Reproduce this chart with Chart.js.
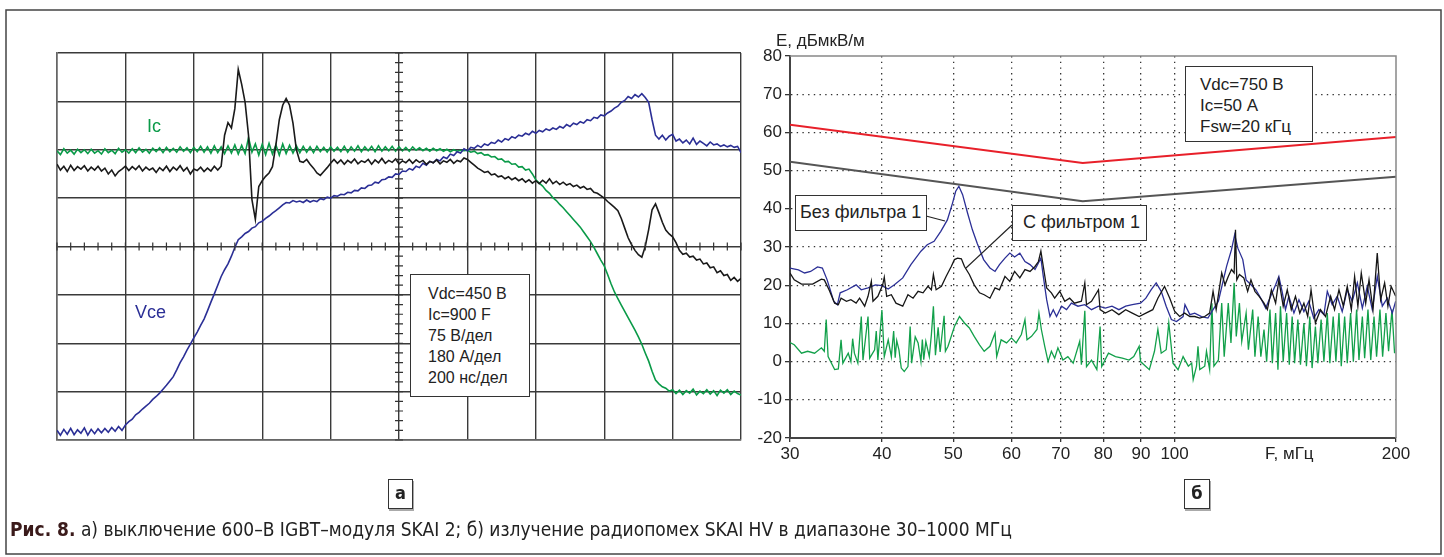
<!DOCTYPE html>
<html>
<head>
<meta charset="utf-8">
<script src="https://cdn.jsdelivr.net/npm/chart.js@4.4.1/dist/chart.umd.min.js"></script>
<style>
  body { margin: 0; background: #fff; }
  #fig { position: relative; width: 1444px; height: 557px; overflow: hidden; font-family: "Liberation Sans", Arial, sans-serif; color: #222; }
  canvas { position: absolute; }
  .txt { position: absolute; white-space: nowrap; line-height: 1; }
  .box { position: absolute; border: 1.5px solid #333; background: #fff; box-sizing: border-box; white-space: nowrap; }
  .tag { position: absolute; border: 1.5px solid #333; box-sizing: border-box; background: #fff; font: bold 18px "DejaVu Sans Condensed", sans-serif; text-align: center; line-height: 26px; box-shadow: 1px 2px 0 #aaa; }
</style>
</head>
<body>
<div id="fig">
  <svg width="1444" height="557" style="position:absolute;left:0;top:0">
    <rect x="6" y="10" width="1435" height="544" fill="none" stroke="#444" stroke-width="1.5"/>
  </svg>

  <canvas id="osc" width="704" height="407" style="left:47px;top:43px"></canvas>
  <canvas id="emi" width="680" height="428" style="left:740px;top:40px"></canvas>

  <svg width="1444" height="557" style="position:absolute;left:0;top:0;pointer-events:none">
    <line x1="926" y1="216" x2="945" y2="221" stroke="#222" stroke-width="1.2"/>
    <line x1="1012" y1="225" x2="966" y2="268" stroke="#222" stroke-width="1.2"/>
  </svg>

  <!-- oscillogram labels -->
  <div class="txt" style="left:147px;top:117px;font-size:18px;color:#0a9a48">Ic</div>
  <div class="txt" style="left:135px;top:303px;font-size:18px;color:#2b2f96">Vce</div>
  <div class="box" style="left:410px;top:274px;width:120px;height:123px;padding:8px 0 0 17px;font-size:16px;line-height:21px">
    Vdc=450 В<br>Ic=900 F<br>75 В/дел<br>180 А/дел<br>200 нс/дел
  </div>

  <!-- emission labels -->
  <div class="txt" style="left:776px;top:32px;font-size:17px">E, дБмкВ/м</div>
  <div class="txt" style="left:1265px;top:445px;font-size:17px">F, мГц</div>
  <div class="box" style="left:1185px;top:66px;width:128px;height:76px;padding:7px 0 0 14px;font-size:17px;line-height:21px">
    Vdc=750 В<br>Ic=50 А<br>Fsw=20 кГц
  </div>
  <div class="box" style="left:795px;top:195px;width:132px;height:36px;padding:0 0 0 4px;font-size:18px;line-height:33px">Без фильтра 1</div>
  <div class="box" style="left:1012px;top:205px;width:135px;height:36px;padding:0 0 0 10px;font-size:18px;line-height:33px">С фильтром 1</div>

  <div class="tag" style="left:388px;top:479px;width:25px;height:30px">а</div>
  <div class="tag" style="left:1184px;top:479px;width:26px;height:30px">б</div>

  <div class="txt" style="left:10px;top:520px;font-size:19px;font-family:'DejaVu Sans Condensed',sans-serif;color:#222">
    <b style="color:#3a1a1a">Рис. 8.</b> а) выключение 600–В IGBT–модуля SKAI 2; б) излучение радиопомех SKAI HV в диапазоне 30–1000 МГц
  </div>
</div>

<script>
// ---------- a) turn-off oscillogram, values in screen divisions ----------
// sampling grid: 0.05 div over 10 horizontal divisions
var oscTime = Array.from({length: 201}, function (_, i) { return +(i * 0.05).toFixed(2); });

var icTrace = [
  1.98, 1.90, 2.02, 1.93, 1.99, 1.91, 2.01, 1.94, 2.00, 1.92,
  2.01, 1.93, 1.98, 1.91, 2.02, 1.94, 1.99, 1.92, 2.03, 1.95,
  2.00, 1.93, 2.02, 1.94, 2.04, 1.95, 2.01, 1.93, 2.03, 1.96,
  2.04, 1.94, 2.05, 1.96, 2.03, 1.95, 2.06, 1.97, 2.04, 1.94,
  2.05, 1.96, 2.07, 1.95, 2.06, 1.93, 2.08, 1.94, 2.06, 1.92,
  2.08, 1.93, 2.10, 1.91, 2.09, 1.92, 2.25, 1.95, 2.12, 1.89,
  2.11, 1.90, 2.13, 1.91, 2.10, 1.89, 2.12, 1.92, 2.09, 1.93,
  2.08, 1.94, 2.07, 1.95, 2.06, 1.94, 2.07, 1.96, 2.05, 1.95,
  2.06, 1.97, 2.05, 1.96, 2.07, 1.95, 2.06, 1.97, 2.08, 1.96,
  2.06, 1.98, 2.07, 1.96, 2.08, 1.97, 2.06, 1.98, 2.07, 1.97,
  2.06, 1.98, 2.05, 1.97, 2.06, 1.99, 2.04, 1.98, 2.03, 1.97,
  2.03, 1.98, 2.02, 1.97, 2.01, 1.96, 2.00, 1.97, 1.99, 1.98,
  1.99, 1.95, 1.97, 1.92, 1.94, 1.89, 1.90, 1.85, 1.86, 1.80,
  1.81, 1.75, 1.76, 1.70, 1.71, 1.64, 1.65, 1.58, 1.60, 1.50,
  1.38, 1.31, 1.25, 1.16, 1.10, 1.01, 0.95, 0.87, 0.80, 0.72,
  0.64, 0.56, 0.48, 0.40, 0.30, 0.20, 0.10, -0.02, -0.15, -0.28,
  -0.40, -0.58, -0.77, -0.94, -1.08, -1.21, -1.34, -1.47, -1.60, -1.73,
  -1.87, -2.02, -2.20, -2.37, -2.58, -2.76, -2.84, -2.90, -2.93, -2.99,
  -2.96, -3.04, -2.97, -3.06, -2.98, -3.03, -2.95, -3.07, -2.99, -3.04,
  -2.96, -3.05, -2.98, -3.08, -2.97, -3.03, -2.96, -3.06, -2.99, -3.04, -3.07
];

var vceTrace = [
  -3.80, -3.90, -3.78, -3.88, -3.76, -3.89, -3.79, -3.86, -3.75, -3.90,
  -3.78, -3.87, -3.77, -3.85, -3.76, -3.84, -3.74, -3.82, -3.72, -3.80,
  -3.69, -3.62, -3.57, -3.48, -3.43, -3.36, -3.30, -3.24, -3.16, -3.10,
  -3.03, -2.95, -2.87, -2.78, -2.69, -2.55, -2.40, -2.28, -2.14, -2.02,
  -1.89, -1.77, -1.63, -1.50, -1.33, -1.15, -0.98, -0.80, -0.62, -0.48,
  -0.36, -0.20, -0.02, 0.14, 0.20, 0.27, 0.31, 0.38, 0.41, 0.49,
  0.52, 0.58, 0.63, 0.69, 0.74, 0.80, 0.86, 0.91, 0.90, 0.95,
  0.92, 0.94, 0.91, 0.96, 0.92, 0.95, 0.93, 0.99, 0.97, 1.02,
  1.00, 1.05, 1.04, 1.08, 1.07, 1.12, 1.11, 1.16, 1.15, 1.21,
  1.20, 1.26, 1.27, 1.33, 1.31, 1.38, 1.39, 1.44, 1.43, 1.50,
  1.49, 1.56, 1.55, 1.61, 1.58, 1.66, 1.63, 1.72, 1.68, 1.76,
  1.73, 1.80, 1.77, 1.85, 1.82, 1.91, 1.88, 1.96, 1.93, 2.02,
  1.98, 2.05, 2.03, 2.09, 2.05, 2.12, 2.09, 2.15, 2.13, 2.20,
  2.16, 2.23, 2.20, 2.27, 2.24, 2.30, 2.28, 2.34, 2.31, 2.38,
  2.34, 2.40, 2.37, 2.43, 2.40, 2.45, 2.42, 2.48, 2.45, 2.52,
  2.48, 2.55, 2.52, 2.58, 2.55, 2.62, 2.60, 2.67, 2.65, 2.72,
  2.70, 2.76, 2.80, 2.86, 2.90, 2.98, 3.02, 3.10, 3.06, 3.14,
  3.09, 3.16, 3.08, 2.98, 2.62, 2.30, 2.22, 2.30, 2.20, 2.28,
  2.32, 2.18, 2.22, 2.14, 2.20, 2.12, 2.24, 2.11, 2.18, 2.13,
  2.08, 2.16, 2.10, 2.12, 2.07, 2.10, 2.06, 2.09, 2.05, 2.07, 1.94
];

var gateTrace = [
  1.70, 1.58, 1.66, 1.55, 1.68, 1.57, 1.65, 1.60, 1.67, 1.56,
  1.64, 1.58, 1.66, 1.56, 1.62, 1.50, 1.58, 1.46, 1.55, 1.60,
  1.66, 1.57, 1.65, 1.59, 1.67, 1.56, 1.64, 1.58, 1.62, 1.53,
  1.63, 1.57, 1.66, 1.55, 1.64, 1.58, 1.67, 1.56, 1.63, 1.50,
  1.60, 1.57, 1.64, 1.55, 1.62, 1.56, 1.66, 1.58, 1.66, 2.30,
  2.56, 2.45, 2.85, 3.66, 3.35, 2.98, 2.30, 0.97, 0.56, 1.24,
  1.36, 1.45, 1.52, 1.65, 2.10, 2.62, 2.92, 3.06, 2.92, 2.55,
  2.00, 1.76, 1.74, 1.80, 1.70, 1.62, 1.52, 1.47, 1.55, 1.63,
  1.72, 1.80, 1.72, 1.79, 1.70, 1.78, 1.73, 1.81, 1.71, 1.77,
  1.74, 1.80, 1.70, 1.79, 1.73, 1.82, 1.72, 1.78, 1.74, 1.81,
  1.71, 1.77, 1.73, 1.80, 1.72, 1.79, 1.74, 1.78, 1.70, 1.76,
  1.73, 1.79, 1.71, 1.77, 1.74, 1.80, 1.72, 1.78, 1.75, 1.83,
  1.80, 1.74, 1.68, 1.62, 1.58, 1.53, 1.55, 1.48, 1.50, 1.44,
  1.46, 1.40, 1.44, 1.38, 1.42, 1.36, 1.40, 1.33, 1.38, 1.31,
  1.36, 1.30, 1.37, 1.31, 1.40, 1.30, 1.35, 1.28, 1.33, 1.27,
  1.30, 1.24, 1.27, 1.21, 1.24, 1.18, 1.20, 1.12, 1.10, 1.05,
  1.00, 0.93, 0.87, 0.81, 0.74, 0.58, 0.38, 0.18, 0.04, -0.08,
  -0.17, -0.22, 0.00, 0.35, 0.76, 0.88, 0.70, 0.50, 0.34, 0.26,
  0.20, 0.08, -0.08, -0.16, -0.14, -0.22, -0.20, -0.28, -0.26, -0.36,
  -0.34, -0.44, -0.42, -0.54, -0.50, -0.60, -0.58, -0.70, -0.64, -0.72, -0.66
];

// ---------- b) radiated emission, F in MHz, E in dBuV/m ----------
var freqTicks = [30, 40, 50, 60, 70, 80, 90, 100, 200];

var limitFreq = [30, 75, 200];
var redLimit  = [62, 52, 58.8];
var grayLimit = [52.3, 42, 48.4];

var blueFreq = [30.0, 30.8, 31.4, 32.0, 32.7, 33.2, 33.7, 34.4, 34.8, 35.1, 35.9, 36.9, 37.5, 38.3, 39.2, 40.0, 40.8, 41.6, 42.7, 43.8,
  45.2, 46.1, 47.1, 48.1, 49.1, 49.9, 50.4, 50.9, 51.5, 52.3, 53.1, 53.9, 55.0, 56.1, 57.0, 57.8, 58.8, 59.7, 60.6, 61.6,
  62.6, 63.6, 64.6, 65.3, 65.8, 66.3, 67.0, 67.7, 68.4, 69.1, 70.2, 71.3, 72.4, 73.9, 75.5, 77.1, 78.8, 80.5, 82.2, 84.0,
  85.8, 87.6, 89.9, 91.4, 92.9, 94.4, 95.9, 97.4, 99.0, 100.6, 102.7, 103.3, 104.9, 106.5, 108.8, 111.0, 112.8, 114.7, 116.5, 117.7,
  119.5, 120.7, 121.9, 123.8, 125.1, 127.0, 129.0, 131.0, 133.0, 135.1, 137.2, 138.6, 140.0, 141.5, 143.0, 145.3, 147.6, 149.9, 152.2, 154.6,
  157.1, 159.6, 161.3, 163.8, 166.4, 169.0, 171.7, 174.4, 177.2, 180.0, 182.8, 185.7, 188.6, 191.6, 194.6, 197.7, 199.8];
var blueLevel = [24.5, 24.0, 23.2, 23.6, 24.8, 24.5, 21.4, 15.8, 14.9, 18.0, 18.8, 20.1, 18.8, 19.3, 20.1, 19.9, 19.0, 20.1, 21.9, 25.4,
  28.9, 30.6, 31.5, 34.1, 37.1, 41.5, 44.6, 45.9, 43.7, 38.9, 34.5, 31.0, 26.7, 24.5, 23.6, 25.4, 27.1, 28.4, 27.4, 28.4,
  26.2, 25.4, 24.1, 25.8, 27.1, 22.3, 16.2, 11.8, 13.6, 11.8, 14.5, 13.6, 15.3, 14.5, 14.9, 13.6, 14.5, 14.0, 14.5, 13.6,
  14.5, 14.9, 15.3, 16.6, 18.8, 20.6, 18.4, 14.5, 11.0, 10.5, 11.8, 14.9, 12.3, 12.7, 11.8, 11.4, 13.6, 15.8, 21.4, 25.0,
  29.3, 33.2, 29.7, 26.7, 21.4, 20.1, 18.8, 16.6, 14.0, 17.1, 20.1, 22.3, 18.4, 13.6, 17.1, 12.7, 16.2, 13.1, 15.8, 11.4,
  13.6, 12.3, 18.4, 14.9, 17.1, 13.1, 18.8, 15.8, 20.6, 14.0, 19.7, 13.6, 22.3, 14.5, 16.6, 12.7, 15.8];

var blackFreq = [30.0, 30.4, 31.1, 32.2, 33.1, 33.4, 33.9, 34.5, 34.9, 35.2, 35.8, 36.3, 36.9, 37.3, 37.9, 38.3, 38.7, 38.9, 39.5, 40.1,
  40.3, 40.6, 41.2, 41.8, 42.7, 43.4, 44.1, 44.8, 45.5, 46.2, 46.7, 47.0, 47.4, 48.2, 48.9, 49.7, 50.2, 50.7, 51.3, 51.8,
  52.6, 53.4, 54.3, 55.1, 56.1, 57.0, 57.8, 58.8, 59.7, 60.6, 61.6, 62.6, 63.6, 64.6, 65.3, 65.8, 66.3, 67.0, 68.0, 68.7,
  69.8, 70.9, 72.0, 73.1, 74.7, 75.5, 75.9, 77.1, 78.8, 79.2, 80.5, 82.2, 84.0, 85.8, 87.6, 89.5, 91.4, 93.4, 94.9, 96.9,
  98.5, 100.0, 101.6, 103.2, 104.9, 106.5, 108.2, 109.9, 111.6, 112.8, 113.9, 115.9, 117.1, 118.3, 119.5, 120.5, 121.0, 121.5, 122.5, 124.2,
  125.7, 127.0, 128.6, 130.3, 132.3, 133.7, 135.4, 137.2, 138.6, 140.5, 142.3, 144.1, 146.0, 148.0, 149.9, 151.7, 153.3, 155.4, 157.9, 160.4,
  163.0, 165.0, 167.3, 169.6, 171.7, 173.9, 175.7, 177.5, 179.4, 181.9, 183.8, 186.1, 188.6, 190.6, 193.0, 195.0, 197.0, 199.8];
var blackLevel = [23.2, 21.4, 20.3, 20.3, 21.6, 21.4, 18.8, 15.3, 14.9, 16.6, 15.8, 16.2, 15.3, 16.6, 14.5, 17.1, 21.0, 15.8, 17.1, 20.1,
  22.1, 17.1, 17.5, 15.3, 14.5, 17.5, 16.6, 18.4, 18.0, 19.7, 18.8, 22.8, 18.8, 19.7, 22.3, 24.9, 26.7, 27.1, 26.9, 24.9,
  22.8, 20.1, 18.0, 17.5, 16.6, 19.3, 18.8, 22.3, 21.0, 23.6, 21.9, 24.1, 23.6, 24.9, 26.2, 28.9, 24.9, 19.3, 18.0, 16.6,
  18.4, 15.8, 16.6, 15.3, 15.8, 20.6, 14.9, 15.8, 18.8, 13.6, 12.7, 13.6, 12.3, 13.6, 12.7, 11.8, 12.7, 13.6, 16.6, 19.7,
  16.6, 13.2, 11.8, 12.7, 11.8, 11.8, 11.4, 11.8, 12.7, 18.4, 13.6, 23.2, 20.1, 22.3, 24.1, 23.2, 34.5, 21.4, 22.8, 21.9,
  18.4, 21.4, 18.4, 17.1, 15.3, 13.6, 18.8, 15.3, 21.4, 14.5, 18.8, 13.6, 17.1, 12.7, 15.3, 11.8, 18.8, 10.1, 13.6, 11.8,
  17.1, 13.6, 18.8, 14.5, 19.7, 13.6, 22.3, 14.5, 23.2, 15.3, 21.4, 13.6, 28.4, 16.2, 20.6, 14.5, 19.7, 17.1];

var greenFreq = [30.0, 30.4, 31.1, 31.7, 32.4, 33.1, 33.4, 33.6, 33.8, 34.5, 34.9, 35.2, 35.4, 36.0, 36.3, 36.5, 36.7, 37.1, 37.5, 37.7,
  38.3, 38.5, 39.1, 39.3, 39.5, 40.0, 40.3, 40.8, 41.2, 41.5, 41.7, 41.9, 42.2, 42.5, 42.9, 43.4, 43.7, 43.9, 44.4, 44.8,
  45.2, 45.4, 45.6, 45.9, 46.4, 46.7, 47.0, 47.3, 47.7, 48.0, 48.6, 48.8, 49.2, 50.2, 51.0, 51.8, 52.6, 53.4, 54.3, 55.1,
  56.1, 57.0, 57.3, 58.1, 59.1, 60.0, 60.9, 61.9, 62.6, 63.0, 63.9, 65.0, 65.4, 65.9, 66.6, 67.3, 68.0, 68.7, 69.4, 70.5,
  71.6, 72.8, 74.3, 74.7, 75.5, 75.9, 77.1, 78.4, 79.2, 79.6, 81.3, 83.1, 84.9, 86.7, 88.0, 89.5, 89.9, 92.4, 93.9, 94.9,
  95.9, 97.4, 98.2, 99.5, 101.1, 102.7, 104.4, 105.5, 106.0, 107.1, 107.6, 108.2, 109.9, 110.5, 111.6, 112.4, 113.1, 114.7, 115.9, 116.8,
  118.3, 119.3, 120.5, 121.3, 122.5, 123.4, 125.1, 126.0, 127.7, 128.6, 129.9, 131.0, 132.3, 133.4, 134.8, 135.8, 137.2, 138.2, 139.3, 140.5,
  142.0, 143.2, 144.5, 145.6, 147.1, 148.3, 149.9, 151.1, 152.7, 153.8, 155.4, 156.6, 158.2, 159.6, 161.3, 162.6, 164.3, 165.7, 167.3, 168.5,
  170.3, 171.7, 173.5, 175.0, 176.8, 178.1, 180.0, 181.3, 183.2, 184.8, 186.7, 188.2, 190.2, 191.8, 193.8, 195.4, 197.5, 199.1];
var greenLevel = [5.0, 4.4, 2.2, 2.7, 2.2, 3.6, 2.7, 11.0, 1.3, -2.1, -1.9, 5.7, -0.4, 2.2, 0.0, 6.0, 2.2, -0.4, 11.8, 0.4,
  11.8, 0.9, 3.1, 8.0, 0.4, 13.5, 1.3, 5.7, 1.3, 8.0, 1.0, 5.5, 3.0, -1.7, -2.6, -1.3, 9.2, -0.4, 6.5, 4.9,
  0.0, 5.8, 0.5, 5.3, 1.3, 7.0, 14.5, 1.7, 9.0, 2.5, 12.0, 2.7, 4.0, 9.2, 11.8, 10.1, 8.8, 6.6, 4.4, 2.7,
  4.0, 7.5, 1.3, 5.7, 4.9, 6.2, 4.9, 7.1, 11.0, 5.7, 6.6, 8.4, 12.7, 8.4, 4.0, 0.0, 2.7, 0.9, 3.6, 0.4,
  1.3, -0.4, 5.3, -0.8, 13.3, -1.3, 0.4, -2.1, 9.2, -1.3, 2.2, 1.3, 0.9, 0.4, 1.3, 4.0, 0.0, -2.1, 2.7, 8.4,
  2.2, 3.1, 10.1, -0.4, -2.1, 1.3, -1.2, -0.4, -4.7, -1.2, 4.0, -2.1, -1.2, 2.7, -2.1, 15.3, -1.2, 0.4, 15.3, 1.3,
  15.3, 4.9, 20.6, 6.6, 15.3, 5.3, 12.7, 3.1, 13.6, 1.3, 11.8, 1.3, 8.4, 0.0, 13.6, -0.4, 12.7, -2.1, 14.5, 0.0,
  12.7, -0.8, 11.8, -0.4, 11.0, -0.8, 10.1, -1.2, 11.8, -1.7, 9.2, -0.4, 11.0, 0.0, 12.7, -0.4, 11.8, 0.0, 12.7, -1.2,
  11.8, -0.4, 12.7, 0.0, 13.6, 0.4, 11.8, 0.9, 13.6, 0.4, 11.8, 1.3, 13.6, 1.3, 12.7, 2.7, 13.6, 2.2];

function pairs(xs, ys) {
  return xs.map(function (x, i) { return {x: x, y: ys[i]}; });
}

// small cross ticks on the centre axes of the scope screen
var centerTicks = {
  id: 'centerTicks',
  afterDraw: function (chart) {
    var ctx = chart.ctx, sx = chart.scales.x, sy = chart.scales.y;
    var x0 = sx.getPixelForValue(5), y0 = sy.getPixelForValue(0);
    ctx.save();
    ctx.strokeStyle = '#333';
    ctx.lineWidth = 1.2;
    ctx.beginPath();
    for (var i = 0; i <= 50; i++) {
      var px = sx.getPixelForValue(i * 0.2);
      ctx.moveTo(px, y0 - 4); ctx.lineTo(px, y0 + 4);
    }
    for (var j = 0; j <= 40; j++) {
      var py = sy.getPixelForValue(-4 + j * 0.2);
      ctx.moveTo(x0 - 4, py); ctx.lineTo(x0 + 4, py);
    }
    ctx.stroke();
    ctx.restore();
  }
};

new Chart(document.getElementById('osc'), {
  type: 'line',
  data: {
    datasets: [
      {label: 'Vge', data: pairs(oscTime, gateTrace), borderColor: '#1a1a1a', borderWidth: 1.6},
      {label: 'Vce', data: pairs(oscTime, vceTrace), borderColor: '#2b2f96', borderWidth: 1.6},
      {label: 'Ic', data: pairs(oscTime, icTrace), borderColor: '#0a9a48', borderWidth: 1.6}
    ]
  },
  options: {
    animation: false,
    responsive: false,
    devicePixelRatio: 1,
    layout: {padding: 10},
    elements: {point: {radius: 0}, line: {tension: 0}},
    plugins: {legend: {display: false}, tooltip: {enabled: false}},
    scales: {
      x: {
        type: 'linear', min: 0, max: 10,
        ticks: {display: false, stepSize: 1},
        grid: {color: '#3a3a3a', lineWidth: 1.4, drawTicks: false},
        border: {color: '#666', width: 1.5}
      },
      y: {
        type: 'linear', min: -4, max: 4,
        ticks: {display: false, stepSize: 1},
        grid: {color: '#3a3a3a', lineWidth: 1.4, drawTicks: false},
        border: {color: '#666', width: 1.5}
      }
    }
  },
  plugins: [centerTicks]
});

// gray frame on the top and right side of the emission plot
var plotFrame = {
  id: 'plotFrame',
  afterDatasetsDraw: function (chart) {
    var a = chart.chartArea, ctx = chart.ctx;
    ctx.save();
    ctx.strokeStyle = '#888';
    ctx.lineWidth = 1.5;
    ctx.beginPath();
    ctx.moveTo(a.left, a.top); ctx.lineTo(a.right, a.top); ctx.lineTo(a.right, a.bottom);
    ctx.stroke();
    ctx.restore();
  }
};

function edgeless(min, max) {
  return function (c) {
    if (!c.tick) return '#333';
    return (c.tick.value === min || c.tick.value === max) ? 'rgba(0,0,0,0)' : '#333';
  };
}

new Chart(document.getElementById('emi'), {
  type: 'line',
  data: {
    datasets: [
      {label: 'С фильтром 1', data: pairs(blackFreq, blackLevel), borderColor: '#161616', borderWidth: 1.3},
      {label: 'Без фильтра 1', data: pairs(blueFreq, blueLevel), borderColor: '#2b2f96', borderWidth: 1.3},
      {label: 'фон', data: pairs(greenFreq, greenLevel), borderColor: '#12a04a', borderWidth: 1.3},
      {label: 'limit A', data: pairs(limitFreq, redLimit), borderColor: '#e8202a', borderWidth: 2},
      {label: 'limit B', data: pairs(limitFreq, grayLimit), borderColor: '#555', borderWidth: 2}
    ]
  },
  options: {
    animation: false,
    responsive: false,
    devicePixelRatio: 1,
    layout: {padding: {top: 16, right: 24, left: 0, bottom: 0}},
    elements: {point: {radius: 0}, line: {tension: 0}},
    plugins: {legend: {display: false}, tooltip: {enabled: false}},
    scales: {
      x: {
        type: 'logarithmic', min: 30, max: 200,
        afterBuildTicks: function (s) { s.ticks = freqTicks.map(function (v) { return {value: v}; }); },
        afterFit: function (s) { s.height = 30; },
        ticks: {
          autoSkip: false, maxRotation: 0, padding: 2, color: '#222',
          font: {family: '"Liberation Sans", Arial, sans-serif', size: 17},
          callback: function (v) { return String(v); }
        },
        grid: {color: edgeless(30, 200), lineWidth: 1.3, tickLength: 4, tickColor: '#333', tickWidth: 1.3},
        border: {color: '#444', width: 2, dash: [1.4, 4.3]}
      },
      y: {
        type: 'linear', min: -20, max: 80,
        afterFit: function (s) { s.width = 50; },
        ticks: {
          stepSize: 5, padding: 3, color: '#222',
          font: {family: '"Liberation Sans", Arial, sans-serif', size: 17},
          callback: function (v) { return v % 10 === 0 ? String(v) : ''; }
        },
        grid: {color: edgeless(-20, 80), lineWidth: 1.3, tickLength: 5, tickColor: '#333', tickWidth: 1.3},
        border: {color: '#444', width: 2, dash: [1.4, 4.3]}
      }
    }
  },
  plugins: [plotFrame]
});
</script>
</body>
</html>
